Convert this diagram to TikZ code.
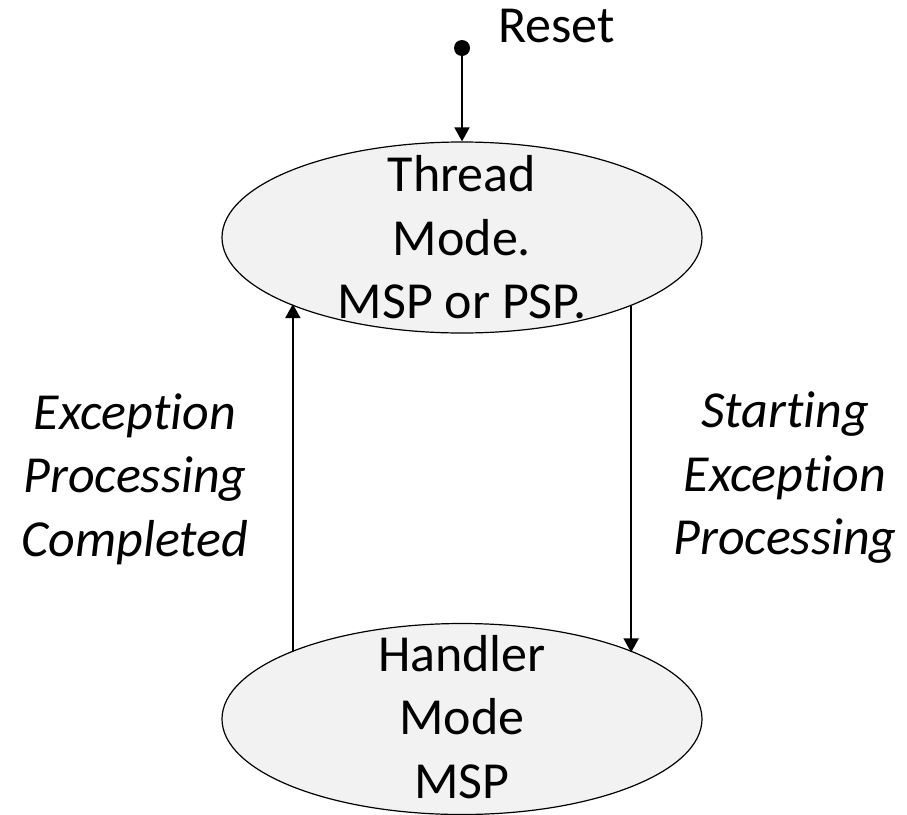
\documentclass[tikz,border=0pt]{standalone}
\usepackage{fontspec}
\setmainfont{Carlito}[Ligatures=NoCommon]
\usetikzlibrary{arrows.meta,shapes.geometric}
\definecolor{modefill}{HTML}{F2F2F2}
\begin{document}
\begin{tikzpicture}[x=1pt,y=-1pt,
  mode/.style={ellipse, draw, line width=1.2pt, fill=modefill,
    minimum width=480pt, minimum height=191pt, inner sep=0pt},
  caption/.style={align=center, inner sep=0pt,
    font=\fontsize{52}{63.5}\selectfont},
  sidelabel/.style={align=center, inner sep=0pt,
    font=\fontsize{52}{63.5}\selectfont\itshape},
  flow/.style={line width=1.8pt, -{Triangle[length=14pt,width=15pt]}}]
  \useasboundingbox (0,0) rectangle (907,814);

  % the two processor modes
  \node[mode] (thread) at (462,237.5) {};
  \node[mode] (handler) at (462,719) {};
  \node[caption] (threadtext) at (462,237.5) {Thread\\Mode.\\MSP or PSP.};
  \node[caption] (handlertext) at (462,717) {Handler\\Mode\\MSP};

  % reset entry point
  \node[circle, fill, inner sep=0pt, minimum size=16pt] (reset) at (462,48) {};
  \node[caption, anchor=base west] (resettext) at (498,42) {Reset};
  \draw[flow] (reset.center) -- (thread.north);

  % transitions between the modes
  \draw[flow] (handler.158.8) -- (handler.158.8 |- thread.201.5);
  \draw[flow] (thread.338.5) -- (thread.338.5 |- handler.21.2);

  \node[sidelabel] (donetext) at (135,479) {Exception\\Processing\\Completed};
  \node[sidelabel] (starttext) at (785,478) {Starting\\Exception\\Processing};
\end{tikzpicture}
\end{document}
